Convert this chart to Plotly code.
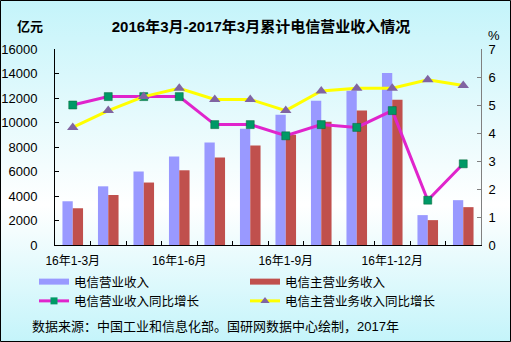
import plotly.graph_objects as go

# ---- data ----
categories = ["16年1-3月", "16年1-4月", "16年1-5月", "16年1-6月", "16年1-7月", "16年1-8月",
              "16年1-9月", "16年1-10月", "16年1-11月", "16年1-12月", "17年1-2月", "17年1-3月"]
tick_labels = [c if i % 3 == 0 and i < 10 else "" for i, c in enumerate(categories)]

telecom_revenue = [3570, 4790, 6000, 7230, 8370, 9500, 10640, 11780, 12600, 14050, 2440, 3660]
main_business_revenue = [3000, 4080, 5100, 6100, 7150, 8120, 9000, 10070, 10970, 11860, 2030, 3090]
telecom_growth = [5.0, 5.3, 5.3, 5.3, 4.3, 4.3, 3.9, 4.3, 4.2, 4.8, 1.6, 2.9]
main_business_growth = [4.2, 4.8, 5.3, 5.6, 5.2, 5.2, 4.8, 5.5, 5.6, 5.6, 5.9, 5.7]

# ---- layout geometry (pixels) ----
W, H = 511, 342
L, R, T, B = 55, 30, 49, 97
PW, PH = W - L - R, H - T - B

BLUE = "#9999FF"
RED = "#C0504D"
MAGENTA = "#E024CC"
GREEN = "#009966"
YELLOW = "#FFFF00"
PURPLE = "#8064A2"
FONT = "Liberation Sans, Noto Sans CJK SC, sans-serif"


def px_x(x):
    return (x - L) / PW


def px_y(y):
    return (T + PH - y) / PH


fig = go.Figure()

fig.add_trace(go.Bar(x=categories, y=telecom_revenue, name="电信营业收入",
                     marker=dict(color=BLUE, line=dict(width=0)), showlegend=False))
fig.add_trace(go.Bar(x=categories, y=main_business_revenue, name="电信主营业务收入",
                     marker=dict(color=RED, line=dict(width=0)), showlegend=False))
fig.add_trace(go.Scatter(x=categories, y=telecom_growth, name="电信营业收入同比增长",
                         yaxis="y2", mode="lines+markers", showlegend=False,
                         line=dict(color=MAGENTA, width=3),
                         marker=dict(symbol="square", size=8, color=GREEN,
                                     line=dict(width=0.5, color="#006633"))))
fig.add_trace(go.Scatter(x=categories, y=main_business_growth, name="电信主营业务收入同比增长",
                         yaxis="y2", mode="lines+markers", showlegend=False,
                         line=dict(color=YELLOW, width=3),
                         marker=dict(symbol="triangle-up", size=10, color=PURPLE)))

# legend entries (line-style swatches), split into two columns
legend_items = [
    ("电信营业收入", dict(color=BLUE, width=6), None, "legend"),
    ("电信营业收入同比增长", dict(color=MAGENTA, width=3),
     dict(symbol="square", size=7, color=GREEN), "legend"),
    ("电信主营业务收入", dict(color=RED, width=6), None, "legend2"),
    ("电信主营业务收入同比增长", dict(color=YELLOW, width=3),
     dict(symbol="triangle-up", size=8, color=PURPLE), "legend2"),
]
for name, line, marker, lg in legend_items:
    fig.add_trace(go.Scatter(x=[categories[0]], y=[None], name=name,
                             mode="lines+markers" if marker else "lines",
                             line=line, marker=marker, showlegend=True, legend=lg))

# vertical gradient background for the whole canvas
grad_svg = (
    "data:image/svg+xml;utf8,"
    "<svg xmlns='http://www.w3.org/2000/svg' width='100' height='100' preserveAspectRatio='none'>"
    "<defs><linearGradient id='g' x1='0' y1='0' x2='0' y2='1'>"
    "<stop offset='0' stop-color='%23C4F4FA'/>"
    "<stop offset='0.6' stop-color='%23FFFFFF'/>"
    "<stop offset='1' stop-color='%23C4F4FA'/>"
    "</linearGradient></defs>"
    "<rect width='100' height='100' fill='url(%23g)'/></svg>"
)
fig.add_layout_image(dict(source=grad_svg, xref="paper", yref="paper",
                          x=px_x(0), y=px_y(0), sizex=W / PW, sizey=H / PH,
                          xanchor="left", yanchor="top", sizing="stretch",
                          layer="below"))

# outer frame
fig.add_shape(type="rect", xref="paper", yref="paper",
              x0=px_x(0.5), x1=px_x(W - 0.5), y0=px_y(H - 0.5), y1=px_y(0.5),
              line=dict(color="black", width=1), fillcolor="rgba(0,0,0,0)", layer="above")

annotations = [
    dict(text="<b>亿元</b>", x=px_x(30), y=px_y(27), font=dict(size=13)),
    dict(text="%", x=px_x(494), y=px_y(35), font=dict(size=13)),
    dict(text="数据来源：中国工业和信息化部。国研网数据中心绘制，2017年",
         x=px_x(30), y=px_y(326), xanchor="left", font=dict(size=13)),
]
for a in annotations:
    a.setdefault("xanchor", "center")
    fig.add_annotation(xref="paper", yref="paper", yanchor="middle", showarrow=False, **a)

legend_common = dict(orientation="v", xref="container", yref="container",
                     xanchor="left", yanchor="top", bgcolor="rgba(0,0,0,0)",
                     font=dict(size=12.5), itemwidth=30, tracegroupgap=0)

fig.update_layout(
    width=W, height=H,
    margin=dict(l=L, r=R, t=T, b=B, pad=0, autoexpand=False),
    paper_bgcolor="rgba(0,0,0,0)",
    plot_bgcolor="rgba(0,0,0,0)",
    font=dict(family=FONT, size=12, color="black"),
    title=dict(text="<b>2016年3月-2017年3月累计电信营业收入情况</b>",
               xref="container", x=261 / W, xanchor="center",
               yref="container", y=1 - 27 / H, yanchor="middle",
               font=dict(size=15, color="black")),
    barmode="group", bargap=0.42, bargroupgap=0,
    xaxis=dict(type="category", range=[-0.5, len(categories) - 0.5],
               tickmode="array", tickvals=categories, ticktext=tick_labels,
               tickson="boundaries", ticks="inside", ticklen=4, tickcolor="black",
               showline=True, linecolor="black", linewidth=1, showgrid=False,
               tickangle=0, tickfont=dict(size=12), zeroline=False,
               ticklabelstandoff=5),
    yaxis=dict(range=[0, 16000], dtick=2000, tickformat="d",
               showline=True, linecolor="black", linewidth=1,
               ticks="inside", ticklen=4, tickcolor="black", showgrid=False, zeroline=False,
               tickfont=dict(size=13), ticklabelstandoff=14),
    yaxis2=dict(range=[0, 7], dtick=1, overlaying="y", side="right", showline=True,
                linecolor="#808080", linewidth=1, ticks="inside", ticklen=4,
                tickcolor="#808080", showgrid=False, zeroline=False,
                tickfont=dict(size=13), ticklabelstandoff=4),
    legend=dict(x=34 / W, y=1 - 267 / H, **legend_common),
    legend2=dict(x=245 / W, y=1 - 267 / H, **legend_common),
    showlegend=True,
)

fig.write_html("out.html")
